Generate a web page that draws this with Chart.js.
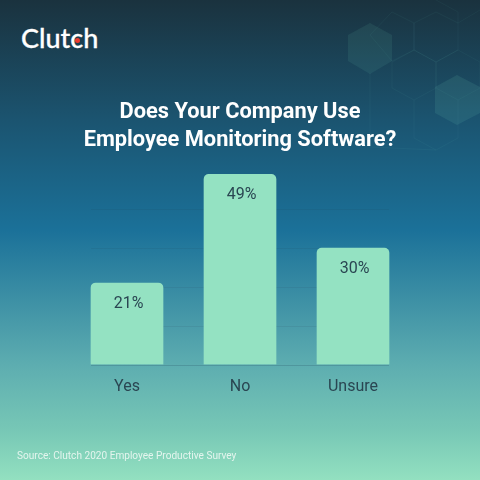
<!DOCTYPE html>
<html>
<head>
<meta charset="utf-8">
<style>
  html, body { margin: 0; padding: 0; }
  body {
    width: 480px; height: 480px; position: relative; overflow: hidden;
    background: linear-gradient(180deg, #1a323e 0%, #1b5470 25%, #1b7199 48%, #5dadb0 76%, #78c8b6 90%, #93e0c0 100%);
    font-family: Roboto, sans-serif;
  }
  #hexes { position: absolute; left: 0; top: 0; }
  #logo {
    position: absolute; left: 21px; top: 21px; color: #fff;
    font: 500 27px/34px Lato, sans-serif; letter-spacing: 0;
    -webkit-text-stroke: 0.3px #fff;
  }
  #dot { position: absolute; left: 74.8px; top: 38.2px; width: 5px; height: 5px; border-radius: 50%; background: #ee3b2f; }
  #source { position: absolute; left: 17px; top: 449px; color: #e4f5ee; font-size: 10.1px; line-height: 13px; }
  #wrap { position: absolute; left: 0; top: 0; width: 480px; height: 480px; }
</style>
</head>
<body>
<svg id="hexes" width="480" height="480" fill="none" stroke="rgba(120,220,190,0.05)" stroke-width="1">
  <polygon points="370,23 392,35 392,61 370,74 348,61 348,35" fill="rgba(120,220,190,0.09)" stroke="none"/>
  <polygon points="457,75 480,87 480,113 457,125 435,113 435,87" fill="rgba(120,220,190,0.11)" stroke="none"/>
  <polygon points="370,35 392,12 414,23 414,50 392,61"/>
  <polygon points="436,12 458,23 458,50 436,62 414,50 414,23"/>
  <polygon points="414,50 436,62 436,88 414,100 392,88 392,62"/>
  <polygon points="458,50 480,62 480,88 458,100 436,88 436,62"/>
  <polyline points="458,23 480,10"/>
  <polyline points="370,73 370,147 436,150 458,138 458,100"/>
  <polyline points="414,100 414,138 436,150"/>
  <polyline points="436,0 458,12 458,23"/>
</svg>
<div id="logo">Clutch</div>
<div id="dot"></div>
<div id="wrap"><canvas id="surveyChart" width="480" height="480"></canvas></div>
<div id="source">Source: Clutch 2020 Employee Productive Survey</div>

<script src="https://cdn.jsdelivr.net/npm/chart.js@4"></script>
<script>
const categories = ['Yes', 'No', 'Unsure'];
const shares = [21, 49, 30];
const titleLines = ['Does Your Company Use', 'Employee Monitoring Software?'];

const darkText = '#2a4652';

// Grid only spans the bars, so it is drawn here instead of by the axis
const shortGrid = {
    id: 'shortGrid',
    beforeDatasetsDraw(chart) {
        const { ctx, scales: { y } } = chart;
        ctx.save();
        y.ticks.forEach(tick => {
            if (tick.value > 40) return;
            const py = Math.round(y.getPixelForValue(tick.value)) + 0.5;
            ctx.strokeStyle = tick.value === 0 ? 'rgba(30,70,90,0.22)' : 'rgba(30,60,80,0.09)';
            ctx.lineWidth = 1;
            ctx.beginPath();
            ctx.moveTo(91, py);
            ctx.lineTo(389, py);
            ctx.stroke();
        });
        ctx.restore();
    }
};

const valueLabels = {
    id: 'valueLabels',
    afterDatasetsDraw(chart) {
        const { ctx } = chart;
        ctx.save();
        ctx.font = '400 16px Roboto';
        ctx.fillStyle = darkText;
        ctx.textAlign = 'center';
        ctx.textBaseline = 'middle';
        chart.getDatasetMeta(0).data.forEach((bar, i) => {
            ctx.fillText(shares[i] + '%', bar.x + 1.5, bar.y + 21);
        });
        ctx.restore();
    }
};

new Chart(document.getElementById('surveyChart'), {
    type: 'bar',
    data: {
        labels: categories,
        datasets: [{
            data: shares,
            backgroundColor: '#94e2c2',
            barThickness: 72,
            borderRadius: { topLeft: 5, topRight: 5 },
            borderSkipped: false
        }]
    },
    options: {
        responsive: false,
        animation: false,
        layout: { padding: { left: 70.5, right: 70.5, top: 99 } },
        plugins: {
            legend: { display: false },
            tooltip: { enabled: false },
            title: {
                display: true,
                text: titleLines,
                color: '#ffffff',
                font: { family: 'Roboto', size: 21.8, weight: '700', lineHeight: 1.27 },
                padding: { top: 0, bottom: 16 }
            }
        },
        scales: {
            y: {
                display: false,
                min: 0,
                max: 50,
                ticks: { stepSize: 10 }
            },
            x: {
                grid: { display: false },
                border: { display: false },
                ticks: { color: darkText, font: { family: 'Roboto', size: 16 }, padding: 5, maxRotation: 0 },
                afterFit(scale) { scale.height = 115.5; }
            }
        }
    },
    plugins: [shortGrid, valueLabels]
});
</script>
</body>
</html>
